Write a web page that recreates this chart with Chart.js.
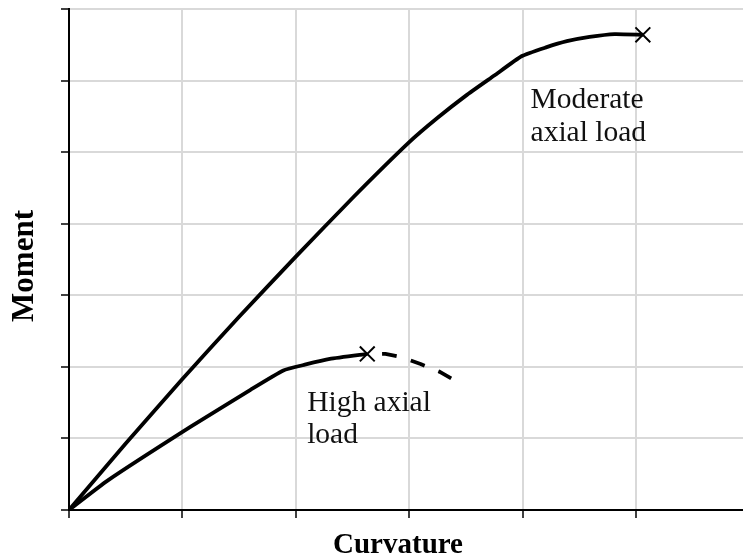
<!DOCTYPE html>
<html>
<head>
<meta charset="utf-8">
<script src="https://cdn.jsdelivr.net/npm/chart.js@4/dist/chart.umd.min.js"></script>
<style>
  html, body { margin: 0; padding: 0; background: #fff; overflow: hidden; }
  #wrap { width: 743px; height: 556px; position: relative; }
</style>
</head>
<body>
<div id="wrap"><canvas id="chart"></canvas></div>
<script>
// Moment–curvature response of a column under two axial load levels
const curvatureModerate = [0, 0.50, 1.00, 1.50, 2.00, 2.50, 3.00, 3.25, 3.50, 3.75, 3.99, 4.20, 4.39, 4.59, 4.81, 5.06];
const momentModerate    = [0, 0.93, 1.83, 2.70, 3.54, 4.36, 5.14, 5.48, 5.79, 6.07, 6.34, 6.46, 6.55, 6.61, 6.65, 6.64];

const curvatureHigh = [0, 0.34, 1.07, 1.60, 1.89, 2.08, 2.30, 2.63];
const momentHigh    = [0, 0.41, 1.16, 1.68, 1.95, 2.03, 2.11, 2.18];

// post-peak softening branch of the high axial load case
const curvatureHighPost = [2.63, 2.79, 2.92, 3.10, 3.27, 3.37];
const momentHighPost    = [2.18, 2.18, 2.14, 2.04, 1.93, 1.84];

const xTickValues = [0, 1, 2, 3, 4, 5];
const yTickValues = [0, 1, 2, 3, 4, 5, 6, 7];

const xAxisTitle = 'Curvature';
const yAxisTitle = 'Moment';
const seriesNames = ['Moderate axial load', 'High axial load', 'High axial load (post-peak)'];
const noteModerate = ['Moderate', 'axial load'];
const noteHigh = ['High axial', 'load'];

const SERIF = '"Liberation Serif", "Times New Roman", serif';

const toPoints = (xs, ys) => xs.map((x, i) => ({ x: x, y: ys[i] }));
// a cross marks the last point of each curve (ultimate state)
const endMarker = (n) => (ctx) => (ctx.dataIndex === n - 1 ? 10.5 : 0);

// curve notes and axis titles, written in the serif face of the figure
const textPlugin = {
  id: 'figureText',
  afterDatasetsDraw(chart, args, opts) {
    const { ctx, scales } = chart;
    ctx.save();
    ctx.fillStyle = '#111';
    ctx.textAlign = 'left';
    ctx.textBaseline = 'alphabetic';
    ctx.font = opts.noteFont;
    opts.notes.forEach(item => {
      const px = scales.x.getPixelForValue(item.x);
      const py = scales.y.getPixelForValue(item.y);
      item.lines.forEach((line, i) => ctx.fillText(line, px, py + i * opts.lineGap));
    });

    ctx.fillStyle = '#000';
    ctx.textAlign = 'center';
    ctx.font = opts.xTitleFont;
    ctx.fillText(opts.xTitle, opts.xTitleX, chart.height - opts.xTitleDrop);

    ctx.font = opts.yTitleFont;
    ctx.translate(opts.yTitleBaseX, opts.yTitleY);
    ctx.rotate(-Math.PI / 2);
    ctx.fillText(opts.yTitle, 0, 0);
    ctx.restore();
  }
};

const curveStyle = {
  showLine: true,
  borderColor: '#000',
  borderWidth: 3.8,
  borderJoinStyle: 'round',
  tension: 0.15,
  pointStyle: 'crossRot',
  pointBorderColor: '#000',
  pointBorderWidth: 2,
  pointHoverRadius: 0
};

new Chart(document.getElementById('chart'), {
  type: 'scatter',
  data: {
    datasets: [
      Object.assign({}, curveStyle, {
        label: seriesNames[0],
        data: toPoints(curvatureModerate, momentModerate),
        pointRadius: endMarker(curvatureModerate.length)
      }),
      Object.assign({}, curveStyle, {
        label: seriesNames[1],
        data: toPoints(curvatureHigh, momentHigh),
        pointRadius: endMarker(curvatureHigh.length)
      }),
      {
        label: seriesNames[2],
        data: toPoints(curvatureHighPost, momentHighPost),
        showLine: true,
        borderColor: '#000',
        borderWidth: 3.8,
        tension: 0,
        borderJoinStyle: 'round',
        borderDash: [14.8, 14.8],
        borderDashOffset: 14.8,
        pointRadius: 0,
        pointHoverRadius: 0
      }
    ]
  },
  options: {
    responsive: true,
    maintainAspectRatio: false,
    animation: false,
    events: [],
    layout: { autoPadding: false, padding: { top: 9, right: 0, bottom: 0, left: 0 } },
    plugins: {
      legend: { display: false },
      tooltip: { enabled: false },
      figureText: {
        noteFont: '29.5px ' + SERIF,
        lineGap: 32.5,
        notes: [
          { x: 4.07, y: 5.61, lines: noteModerate },
          { x: 2.10, y: 1.39, lines: noteHigh }
        ],
        xTitle: xAxisTitle,
        xTitleFont: 'bold 29px ' + SERIF,
        xTitleX: 398,
        xTitleDrop: 3,
        yTitle: yAxisTitle,
        yTitleFont: 'bold 31px ' + SERIF,
        yTitleBaseX: 33,
        yTitleY: 266
      }
    },
    scales: {
      x: {
        type: 'linear',
        min: 0,
        max: 5.943,
        afterBuildTicks: (scale) => { scale.ticks = xTickValues.map(v => ({ value: v })); },
        afterFit: (scale) => { scale.height = 46; },
        ticks: { display: false },
        grid: { color: '#d9d9d9', lineWidth: 2, tickColor: '#000', tickLength: 8, tickWidth: 1.5 },
        border: { color: '#000', width: 2 }
      },
      y: {
        type: 'linear',
        min: 0,
        max: 7,
        afterBuildTicks: (scale) => { scale.ticks = yTickValues.map(v => ({ value: v })); },
        afterFit: (scale) => { scale.width = 69; },
        ticks: { display: false },
        grid: { color: '#d9d9d9', lineWidth: 2, tickColor: '#000', tickLength: 8, tickWidth: 1.5 },
        border: { color: '#000', width: 2 }
      }
    }
  },
  plugins: [textPlugin]
});
</script>
</body>
</html>
